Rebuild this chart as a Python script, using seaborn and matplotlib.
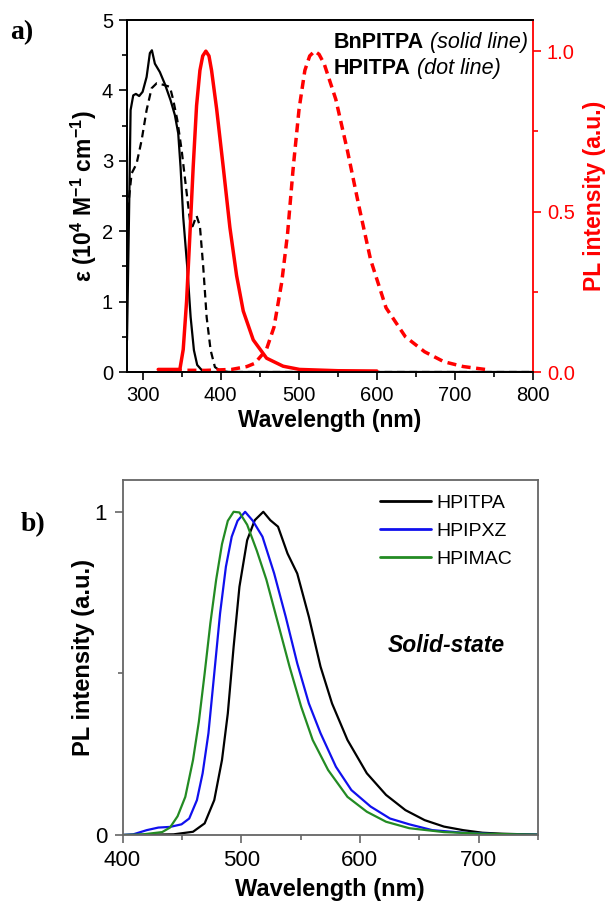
import numpy as np
import pandas as pd
import matplotlib
matplotlib.use("Agg")
import matplotlib.pyplot as plt
import seaborn as sns
from matplotlib.ticker import MultipleLocator

# ---------------- data: panel a ----------------
abs_bn_wl = [280, 282.9, 284.6, 288, 291.4, 295.6, 300, 305.1, 309.3, 311.9, 315.7, 322.1,
             328.5, 335.8, 341.3, 345.6, 348.6, 352, 357.1, 361.5, 365.7, 369.9, 375.5,
             381.9, 390, 500, 800]
abs_bn_eps = [0.45, 2.44, 3.72, 3.93, 3.95, 3.92, 3.98, 4.19, 4.53, 4.57, 4.38, 4.26,
              4.09, 3.86, 3.65, 3.39, 2.91, 2.20, 1.50, 0.78, 0.31, 0.10, 0.03,
              0.0, 0.0, 0.0, 0.0]

abs_hp_wl = [281, 285.9, 292.3, 298.7, 305.1, 311.5, 317.9, 326.4, 335, 339.3, 344.4, 350,
             355.5, 360.6, 364, 369.1, 373.4, 377.6, 382, 387.1, 392.6, 399, 410, 500, 800]
abs_hp_eps = [2.3, 2.82, 2.96, 3.29, 3.72, 4.03, 4.10, 4.08, 4.05, 3.86, 3.58, 3.15,
              2.63, 2.16, 2.07, 2.22, 2.07, 1.50, 0.78, 0.31, 0.07, 0.02, 0.0, 0.0, 0.0]

pl_bn_wl = [320, 347.7, 352, 356.3, 360.6, 364.8, 369.1, 373.4, 377, 381, 385, 388.3, 394.8,
            403.2, 411.8, 420.4, 428.9, 441.7, 458.8, 480, 501, 550, 600]
pl_bn_int = [0.008, 0.008, 0.07, 0.22, 0.43, 0.64, 0.83, 0.94, 0.985, 1.0, 0.985, 0.94, 0.82,
             0.64, 0.45, 0.30, 0.19, 0.10, 0.043, 0.018, 0.008, 0.004, 0.003]

pl_hp_wl = [320, 380, 414, 433.6, 443.6, 458.4, 468.3, 478.2, 485.6, 493, 500.4, 507.8,
            514, 520.3, 526, 532.6, 547.4, 562.3, 577.2, 592, 611.8, 636.5, 661.2,
            685.9, 710.6, 745]
pl_hp_int = [0.006, 0.005, 0.008, 0.017, 0.027, 0.069, 0.14, 0.28, 0.43, 0.64, 0.82, 0.94,
             0.985, 1.0, 0.99, 0.96, 0.85, 0.69, 0.515, 0.35, 0.20, 0.11, 0.063,
             0.032, 0.017, 0.006]

# ---------------- data: panel b ----------------
hpitpa_wl = [400, 443, 459.4, 469.2, 477.3, 483.8, 488.7, 493.6, 498.5, 505, 511.4, 518.6,
             524.5, 531, 539, 547.2, 557, 566.8, 576.5, 589.5, 605.8, 622, 638.3, 654.5,
             670.8, 687, 703.3, 719.6, 750]
hpitpa_int = [0.0, 0.002, 0.01, 0.036, 0.108, 0.232, 0.376, 0.582, 0.768, 0.912, 0.974, 1.0,
              0.974, 0.954, 0.871, 0.809, 0.675, 0.521, 0.407, 0.294, 0.191, 0.124, 0.077,
              0.046, 0.026, 0.015, 0.007, 0.004, 0.001]

hpipxz_wl = [400, 409, 420.4, 430.2, 440, 449.7, 456.2, 462.7, 467.5, 472.4, 477.3, 482.2,
             487.1, 492, 496.9, 503.3, 509.8, 517.9, 527.7, 537.5, 547.2, 557, 566.8,
             579.8, 592.8, 609, 625.3, 641.6, 661, 687, 719.6, 750]
hpipxz_int = [0.0, 0.002, 0.015, 0.023, 0.025, 0.033, 0.051, 0.108, 0.191, 0.315, 0.50, 0.686,
              0.83, 0.923, 0.972, 1.0, 0.972, 0.923, 0.81, 0.675, 0.531, 0.407, 0.315,
              0.211, 0.139, 0.088, 0.051, 0.033, 0.015, 0.007, 0.002, 0.001]

hpimac_wl = [400, 417.2, 433.4, 440, 446.4, 452.9, 459.4, 464.3, 469.2, 474, 478.9, 483.8,
             488.7, 493.6, 498.5, 505, 513.1, 521.2, 531, 540.7, 550.5, 560.2, 573.2,
             589.5, 605.8, 622, 641.6, 670.8, 703.3, 750]
hpimac_int = [0.0, 0.002, 0.009, 0.023, 0.058, 0.118, 0.232, 0.35, 0.50, 0.655, 0.79, 0.90,
              0.972, 1.0, 0.998, 0.96, 0.88, 0.79, 0.655, 0.521, 0.397, 0.294, 0.201,
              0.118, 0.072, 0.041, 0.021, 0.009, 0.004, 0.001]

# ---------------- style ----------------
sns.set_style("ticks")
plt.rcParams['font.family'] = ['Liberation Sans', 'DejaVu Sans']
plt.rcParams['mathtext.fontset'] = 'custom'
plt.rcParams['mathtext.rm'] = 'Liberation Sans'
plt.rcParams['mathtext.bf'] = 'Liberation Sans:bold'
plt.rcParams['mathtext.it'] = 'Liberation Sans:italic'
for k in ('text.color', 'axes.labelcolor', 'xtick.color', 'ytick.color', 'axes.edgecolor'):
    plt.rcParams[k] = 'black'

W, H = 605, 902
fig = plt.figure(figsize=(W / 100, H / 100), dpi=100)

def fx(px):
    return px / W

def fy(py):
    return 1 - py / H

RED = '#ff0000'

# ---------------- panel a ----------------
ax = fig.add_axes([fx(127), fy(372), fx(533) - fx(127), fy(20) - fy(372)])
ax2 = ax.twinx()

sns.lineplot(x=abs_bn_wl, y=abs_bn_eps, ax=ax, color='black', lw=1.6, sort=False)
sns.lineplot(x=abs_hp_wl, y=abs_hp_eps, ax=ax, color='black', lw=1.6, sort=False)
ax.lines[-1].set_dashes((3.4, 2.2))
sns.lineplot(x=pl_bn_wl, y=pl_bn_int, ax=ax2, color=RED, lw=2.5, sort=False)
sns.lineplot(x=pl_hp_wl, y=pl_hp_int, ax=ax2, color=RED, lw=2.5, sort=False)
ax2.lines[-1].set_dashes((2.6, 1.6))

ax.set_xlim(280, 800)
ax.set_ylim(0, 5)
ax2.set_ylim(0, 1.097)
ax.xaxis.set_major_locator(MultipleLocator(100))
ax.xaxis.set_minor_locator(MultipleLocator(50))
ax.yaxis.set_major_locator(MultipleLocator(1))
ax.yaxis.set_minor_locator(MultipleLocator(0.5))
ax2.yaxis.set_minor_locator(MultipleLocator(0.25))
ax2.set_yticks([0, 0.5, 1.0])
ax2.set_yticklabels(['0.0', '0.5', '1.0'])

for a in (ax, ax2):
    a.tick_params(which='major', direction='out', length=6, width=1.2, labelsize=14.5, pad=4)
    a.tick_params(which='minor', direction='out', length=3.5, width=1.2)
    for s in a.spines.values():
        s.set_linewidth(1.3)
        s.set_visible(True)
        s.set_color('black')
ax.tick_params(axis='x', which='both', top=False)
ax.tick_params(axis='y', which='both', right=False)
ax2.tick_params(axis='y', which='both', colors=RED, labelcolor=RED)
ax2.spines['right'].set_color(RED)
ax.spines['right'].set_visible(False)

ax.set_xlabel('Wavelength (nm)', fontsize=16.5, fontweight='bold')
ax.xaxis.set_label_coords(0.5, -0.105)
ax.set_ylabel(r'ε (10$^{\mathbf{4}}$ M$^{\mathbf{-1}}$ cm$^{\mathbf{-1}}$)', fontsize=16.5,
              fontweight='bold')
ax.yaxis.set_label_coords(-0.07, 0.5)
ax2.set_ylabel('PL intensity (a.u.)', fontsize=16.5, fontweight='bold', color=RED)
ax2.yaxis.set_label_coords(1.123, 0.5)

fig.canvas.draw()
renderer = fig.canvas.get_renderer()
t1 = fig.text(fx(334), fy(48), 'BnPITPA', fontsize=15.5, fontweight='bold', va='baseline')
t2 = fig.text(fx(334), fy(74), 'HPITPA', fontsize=15.5, fontweight='bold', va='baseline')
for t, s in ((t1, ' (solid line)'), (t2, ' (dot line)')):
    bb = t.get_window_extent(renderer)
    fig.text(bb.x1 / W, t.get_position()[1], s, fontsize=15.5, fontstyle='italic', va='baseline')

fig.text(fx(10), fy(39), 'a)', fontsize=20, fontweight='bold',
         family=['Liberation Serif', 'DejaVu Serif'], va='baseline')

# ---------------- panel b ----------------
bx = fig.add_axes([fx(122.5), fy(835), fx(538) - fx(122.5), fy(479.8) - fy(835)])
GREY = '#666666'
sns.lineplot(x=hpitpa_wl, y=hpitpa_int, ax=bx, color='black', lw=1.6, label='HPITPA', sort=False)
sns.lineplot(x=hpipxz_wl, y=hpipxz_int, ax=bx, color='#1010ee', lw=1.6, label='HPIPXZ', sort=False)
sns.lineplot(x=hpimac_wl, y=hpimac_int, ax=bx, color='#238b23', lw=1.6, label='HPIMAC', sort=False)

bx.set_xlim(400, 750)
bx.set_ylim(0, 1.099)
bx.xaxis.set_major_locator(MultipleLocator(100))
bx.xaxis.set_minor_locator(MultipleLocator(50))
bx.set_yticks([0, 1])
bx.set_yticklabels(['0', '1'])
bx.yaxis.set_minor_locator(MultipleLocator(0.5))
bx.tick_params(which='major', direction='out', length=6, width=1.2, labelsize=16, pad=5,
               color=GREY)
bx.tick_params(which='minor', direction='out', length=3.5, width=1.2, color=GREY)
for s in bx.spines.values():
    s.set_visible(True)
    s.set_color(GREY)
    s.set_linewidth(1.3)

bx.set_xlabel('Wavelength (nm)', fontsize=17, fontweight='bold')
bx.xaxis.set_label_coords(0.5, -0.121)
bx.set_ylabel('PL intensity (a.u.)', fontsize=17, fontweight='bold')
bx.yaxis.set_label_coords(-0.066, 0.5)

leg = bx.legend(loc='upper left', bbox_to_anchor=(fx(380), fy(494)),
                bbox_transform=fig.transFigure, frameon=False, fontsize=14,
                handlelength=2.6, handletextpad=0.3, labelspacing=0.55, borderpad=0,
                borderaxespad=0)
for h in leg.get_lines():
    h.set_linewidth(2)

bx.text(fx(388), fy(645), 'Solid-state', transform=fig.transFigure, fontsize=16.5,
        fontweight='bold', fontstyle='italic', va='center', ha='left')

fig.text(fx(21), fy(531), 'b)', fontsize=20, fontweight='bold',
         family=['Liberation Serif', 'DejaVu Serif'], va='baseline')

fig.savefig('out.png', dpi=100)
